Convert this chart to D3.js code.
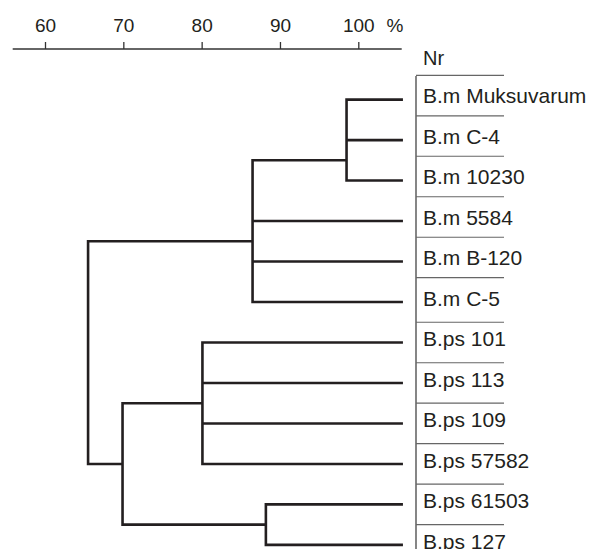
<!DOCTYPE html>
<html>
<head>
<meta charset="utf-8">
<script src="https://cdn.jsdelivr.net/npm/d3@7"></script>
<style>
  body { margin: 0; background: #fff; }
  text { font-family: "Liberation Sans", Arial, sans-serif; fill: #231f20; }
</style>
</head>
<body>
<div id="chart"></div>
<script>
// leaves, top to bottom
var leafNames = ["B.m Muksuvarum", "B.m C-4", "B.m 10230", "B.m 5584", "B.m B-120", "B.m C-5",
  "B.ps 101", "B.ps 113", "B.ps 109", "B.ps 57582", "B.ps 61503", "B.ps 127"];
// clusters: id, similarity (%), children, row where the stem attaches
var clusterIds = ["A", "B", "C", "D", "E", "root"];
var clusterSim = [98.5, 86.5, 80.1, 88.2, 69.9, 65.5];
var clusterKids = [[0, 1, 2], ["A", 3, 4, 5], [6, 7, 8, 9], [10, 11], ["C", "D"], ["B", "E"]];
var clusterRow = [1.5, 3.5, 7.5, 10.5, 9, 6];
var tickVals = [60, 70, 80, 90, 100];
var leafTip = 105.7; // leaf lines run past 100 up to the label table

var width = 590, height = 549;
var svg = d3.select("#chart").append("svg")
  .attr("width", width).attr("height", height);

var x = d3.scaleLinear().domain([60, 100]).range([45, 358.3]);
var y = d3.scaleLinear().domain([0, 11]).range([99.6, 544.9]);

// axis on top
var axisY = 49;
svg.append("line")
  .attr("x1", 12.7).attr("x2", 401.7)
  .attr("y1", axisY).attr("y2", axisY)
  .attr("stroke", "#333").attr("stroke-width", 1.3);

var ax = svg.append("g")
  .attr("transform", "translate(0," + axisY + ")")
  .call(d3.axisTop(x).tickValues(tickVals).tickSize(7).tickPadding(10).tickSizeOuter(0));
ax.select(".domain").remove();
ax.selectAll(".tick line").attr("stroke", "#333").attr("stroke-width", 1.3);
ax.selectAll(".tick text")
  .style("font-family", "'Liberation Sans', Arial, sans-serif")
  .style("font-size", "19px").attr("fill", "#231f20");

svg.append("text").attr("x", 386.5).attr("y", 32)
  .style("font-size", "19px").text("%");

// lookup for positions of leaves and clusters
function nodeX(k) {
  if (typeof k === "number") return x(leafTip);
  return x(clusterSim[clusterIds.indexOf(k)]);
}
function nodeY(k) {
  if (typeof k === "number") return y(k);
  return y(clusterRow[clusterIds.indexOf(k)]);
}

// dendrogram links
for (var i = 0; i < clusterIds.length; i++) {
  var cx = x(clusterSim[i]);
  var kids = clusterKids[i];
  var ys = kids.map(nodeY);
  var first = kids[0], last = kids[kids.length - 1];
  var p = "M" + nodeX(first) + "," + nodeY(first) + "H" + cx + "V" + nodeY(last) + "H" + nodeX(last);
  for (var j = 1; j < kids.length - 1; j++) {
    p += "M" + cx + "," + nodeY(kids[j]) + "H" + nodeX(kids[j]);
  }
  svg.append("path")
    .attr("d", p)
    .attr("fill", "none")
    .attr("stroke", "#231f20")
    .attr("stroke-width", 2.6)
    .attr("stroke-linejoin", "miter")
    .attr("stroke-linecap", "butt");
}

// label table
var colX = 416, colEnd = 504;
svg.append("line")
  .attr("x1", colX).attr("x2", colX)
  .attr("y1", y(-0.58)).attr("y2", height)
  .attr("stroke", "#444").attr("stroke-width", 1.3);

svg.selectAll(".sep")
  .data(leafNames)
  .enter().append("line")
  .attr("class", "sep")
  .attr("x1", colX).attr("x2", colEnd)
  .attr("y1", function (d, i) { return y(i - (i < 6 ? 0.6 : 0.5)); })
  .attr("y2", function (d, i) { return y(i - (i < 6 ? 0.6 : 0.5)); })
  .attr("stroke", "#666").attr("stroke-width", 1.2);

svg.append("text").attr("x", 423).attr("y", 65)
  .style("font-size", "20px").text("Nr");

svg.selectAll(".lbl")
  .data(leafNames)
  .enter().append("text")
  .attr("class", "lbl")
  .attr("x", 423)
  .attr("y", function (d, i) { return y(i) + 3.6; })
  .style("font-size", "21px")
  .text(function (d) { return d; });
</script>
</body>
</html>
